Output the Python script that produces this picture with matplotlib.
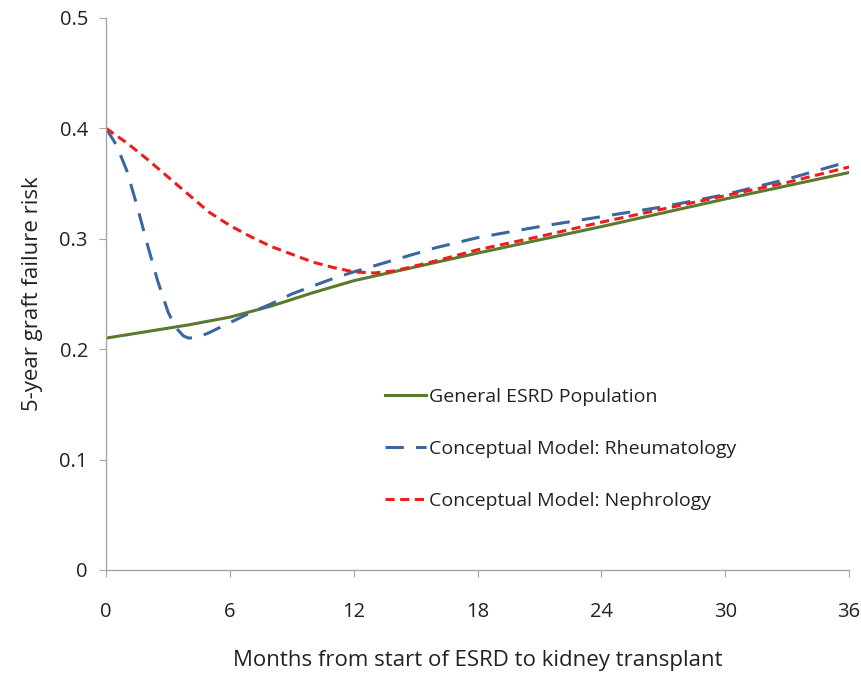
import matplotlib
matplotlib.use("Agg")
import matplotlib.pyplot as plt

# Data
months_green = [0, 2, 4, 6, 8, 10, 12, 18, 24, 30, 36]
general_esrd = [0.210, 0.216, 0.222, 0.229, 0.239, 0.251, 0.262, 0.287, 0.311, 0.336, 0.360]

months_blue = [0, 0.5, 1, 1.5, 2, 2.5, 3, 3.25, 3.5, 3.75, 4, 4.5, 5, 6, 7, 8, 9, 10, 11, 12, 14, 16, 18, 21, 24, 27, 30, 33, 36]
rheumatology = [0.400, 0.385, 0.362, 0.330, 0.295, 0.262, 0.234, 0.224, 0.217, 0.212, 0.210, 0.211, 0.215, 0.224, 0.233, 0.241, 0.250, 0.257, 0.264, 0.270, 0.281, 0.292, 0.301, 0.311, 0.320, 0.329, 0.340, 0.354, 0.370]

months_red = [0, 1, 2, 3, 4, 5, 6, 7, 8, 9, 10, 11, 12, 13, 14, 16, 18, 21, 24, 27, 30, 33, 36]
nephrology = [0.400, 0.387, 0.372, 0.356, 0.340, 0.324, 0.312, 0.302, 0.293, 0.286, 0.279, 0.274, 0.270, 0.269, 0.271, 0.280, 0.290, 0.302, 0.315, 0.327, 0.339, 0.351, 0.365]

x_ticks = [0, 6, 12, 18, 24, 30, 36]
y_ticks = [0, 0.1, 0.2, 0.3, 0.4, 0.5]
y_tick_labels = ["0", "0.1", "0.2", "0.3", "0.4", "0.5"]

plt.rcParams['font.family'] = ['Open Sans', 'DejaVu Sans']

fig = plt.figure(figsize=(8.62, 6.75), dpi=100)
ax = fig.add_axes([0.123, 0.1556, 0.862, 0.8178])

ax.plot(months_green, general_esrd, color="#5a7a2e", lw=2.2, label="General ESRD Population")
ax.plot(months_blue, rheumatology, color="#3a67a0", lw=2.2, linestyle=(0, (6, 4)), label="Conceptual Model: Rheumatology")
ax.plot(months_red, nephrology, color="#ee1c1c", lw=2.2, linestyle=(0, (3, 1.8)), label="Conceptual Model: Nephrology")

ax.set_xlim(0, 36)
ax.set_ylim(0, 0.5)
ax.set_xticks(x_ticks)
ax.set_xticklabels([str(t) for t in x_ticks])
ax.set_yticks(y_ticks)
ax.set_yticklabels(y_tick_labels)

for s in ["top", "right"]:
    ax.spines[s].set_visible(False)
for s in ["left", "bottom"]:
    ax.spines[s].set_color("#a6a6a6")
    ax.spines[s].set_linewidth(1.0)

ax.tick_params(axis="x", colors="#a6a6a6", labelcolor="#222222", labelsize=14.5, length=5, direction="out", pad=18)
ax.tick_params(axis="y", colors="#a6a6a6", labelcolor="#222222", labelsize=14.5, length=5, direction="out", pad=8)

ax.set_xlabel("Months from start of ESRD to kidney transplant", fontsize=16, color="#222222", labelpad=20)
ax.set_ylabel("5-year graft failure risk", fontsize=16, color="#222222", labelpad=12)

leg = ax.legend(loc="upper left", bbox_to_anchor=(0.352, 0.362), frameon=False,
                fontsize=14, handlelength=2.1, handletextpad=0.15, labelspacing=1.75)
for t in leg.get_texts():
    t.set_color("#222222")

fig.savefig("out.png", dpi=100)
